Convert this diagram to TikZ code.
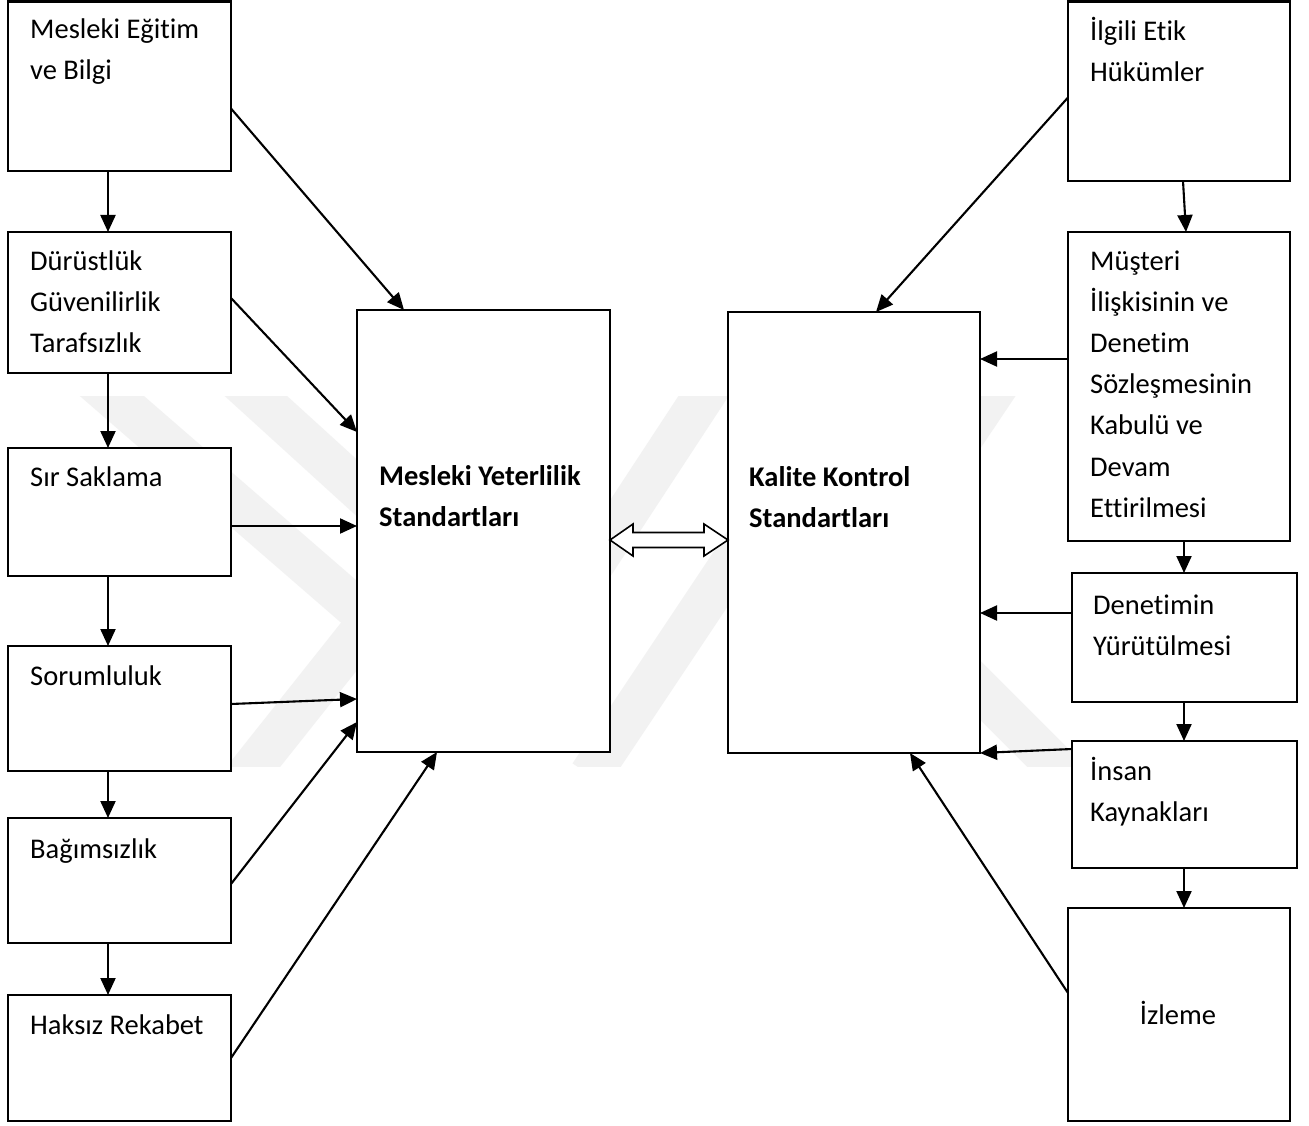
\documentclass[tikz,border=0pt]{standalone}
\usepackage{fontspec}
\setmainfont{Carlito}[Ligatures=NoCommon]
\usetikzlibrary{arrows.meta,calc}
\newcommand\mylines[1]{\begin{tabular}[t]{@{}l@{}}#1\end{tabular}}
\begin{document}
\begin{tikzpicture}[x=1pt,y=-1pt,
  boxst/.style={draw, line width=2.1pt, fill=white, inner sep=0pt, outer sep=0pt},
  txt/.style={anchor=base west, inner sep=0pt, font=\fontsize{28.5}{41.2}\selectfont},
  btxt/.style={txt, font=\fontsize{28.5}{41.2}\selectfont\bfseries},
  arr/.style={line width=2.1pt, -{Triangle[length=17pt,width=15pt]}},
  wm/.style={line width=42pt, draw=black!5},
  dbl/.style={line width=1.6pt, draw=black, fill=white, line join=miter}]
\useasboundingbox (0,0) rectangle (1309,1126);
\fill[white] (0,0) rectangle (1309,1126);
% watermark
\begin{scope}
  \clip (0,396) rectangle (1309,766);
  \draw[wm] (90,377) -- (370,620) -- (235,790);
  \draw[wm] (235,377) -- (480,600);
  \draw[wm] (716,377) -- (560,615);
  \draw[wm] (800,460) -- (590,775);
  \draw[wm] (1003,377) -- (840,620);
  \draw[wm] (880,590) -- (1075,785);
\end{scope}
\newcommand\mkbox[5]{\node[boxst, minimum width={#4-#2}, minimum height={#5-#3}] (#1) at ({(#2+#4)/2},{(#3+#5)/2}) {};}
% left column
\mkbox{b1}{8}{1.5}{231}{171}
\mkbox{b2}{8}{232}{231}{373}
\mkbox{b3}{8}{448}{231}{576}
\mkbox{b4}{8}{646}{231}{771}
\mkbox{b5}{8}{818}{231}{943}
\mkbox{b6}{8}{995}{231}{1121}
% centre
\mkbox{my}{357}{310}{610}{752}
\mkbox{kk}{728}{312}{980}{753}
% right column
\mkbox{r1}{1068}{1.5}{1290}{181}
\mkbox{r2}{1068}{232}{1290}{541}
\mkbox{r3}{1072}{573}{1297}{702}
\mkbox{r4}{1072}{741}{1297}{868}
\mkbox{r5}{1068}{908}{1290}{1121}
% texts
\node[txt] (t1) at ($(b1.north west)+(22,37)$) {\mylines{Mesleki Eğitim\\ve Bilgi}};
\node[txt] (t2) at ($(b2.north west)+(22,38)$) {\mylines{Dürüstlük\\Güvenilirlik\\Tarafsızlık}};
\node[txt] (t3) at ($(b3.north west)+(22,38)$) {Sır Saklama};
\node[txt] (t4) at ($(b4.north west)+(22,39)$) {Sorumluluk};
\node[txt] (t5) at ($(b5.north west)+(22,40)$) {Bağımsızlık};
\node[txt] (t6) at ($(b6.north west)+(22,39)$) {Haksız Rekabet};
\node[btxt] (t7) at ($(my.north west)+(22,175)$) {\mylines{Mesleki Yeterlilik\\Standartları}};
\node[btxt] (t8) at ($(kk.north west)+(21,174)$) {\mylines{Kalite Kontrol\\Standartları}};
\node[txt] (t9) at ($(r1.north west)+(22,39)$) {\mylines{İlgili Etik\\Hükümler}};
\node[txt] (t10) at ($(r2.north west)+(22,38)$) {\mylines{Müşteri\\İlişkisinin ve\\Denetim\\Sözleşmesinin\\Kabulü ve\\Devam\\Ettirilmesi}};
\node[txt] (t11) at ($(r3.north west)+(21,41)$) {\mylines{Denetimin\\Yürütülmesi}};
\node[txt] (t12) at ($(r4.north west)+(18,39)$) {\mylines{İnsan\\Kaynakları}};
\node[txt, anchor=base] (t13) at (1178,1024) {İzleme};
% vertical arrows left
\draw[arr] ($(b1.south west)+(100,0)$) -- ($(b2.north west)+(100,0)$);
\draw[arr] ($(b2.south west)+(100,0)$) -- ($(b3.north west)+(100,0)$);
\draw[arr] ($(b3.south west)+(100,0)$) -- ($(b4.north west)+(100,0)$);
\draw[arr] ($(b4.south west)+(100,0)$) -- ($(b5.north west)+(100,0)$);
\draw[arr] ($(b5.south west)+(100,0)$) -- ($(b6.north west)+(100,0)$);
% vertical arrows right
\draw[arr] ($(r1.south west)+(115,0)$) -- ($(r2.north west)+(118,0)$);
\draw[arr] ($(r2.south west)+(116,0)$) -- ($(r3.north west)+(112,0)$);
\draw[arr] ($(r3.south west)+(112,0)$) -- ($(r4.north west)+(112,0)$);
\draw[arr] ($(r4.south west)+(112,0)$) -- ($(r5.north west)+(116,0)$);
% left inputs
\draw[arr] ($(b1.north east)+(0,107)$) -- ($(my.north west)+(47,0)$);
\draw[arr] ($(b2.north east)+(0,66)$) -- ($(my.north west)+(0,122)$);
\draw[arr] ($(b3.north east)+(0,78)$) -- ($(my.north west)+(0,216)$);
\draw[arr] ($(b4.north east)+(0,58)$) -- ($(my.north west)+(0,389)$);
\draw[arr] ($(b5.north east)+(0,66)$) -- ($(my.north west)+(0,412)$);
\draw[arr] ($(b6.north east)+(0,63)$) -- ($(my.south west)+(80,0)$);
% right inputs
\draw[arr] ($(r1.north west)+(0,96)$) -- ($(kk.north west)+(148,0)$);
\draw[arr] ($(r2.north west)+(0,127)$) -- ($(kk.north east)+(0,47)$);
\draw[arr] ($(r3.north west)+(0,40)$) -- ($(kk.north east)+(0,301)$);
\draw[arr] ($(r4.north west)+(0,8)$) -- ($(kk.north east)+(0,441)$);
\draw[arr] ($(r5.north west)+(0,85)$) -- ($(kk.south west)+(182,0)$);
% double arrow
\coordinate (da) at ($(my.north east)+(0,230)$);
\coordinate (db) at ($(kk.north west)+(0,228)$);
\draw[dbl] (da) -- ($(da)+(23,-16)$) -- ($(da)+(23,-7.5)$) -- ($(db)+(-24,-7.5)$) -- ($(db)+(-24,-16)$) -- (db)
  -- ($(db)+(-24,16)$) -- ($(db)+(-24,7.5)$) -- ($(da)+(23,7.5)$) -- ($(da)+(23,16)$) -- cycle;
\end{tikzpicture}
\end{document}
